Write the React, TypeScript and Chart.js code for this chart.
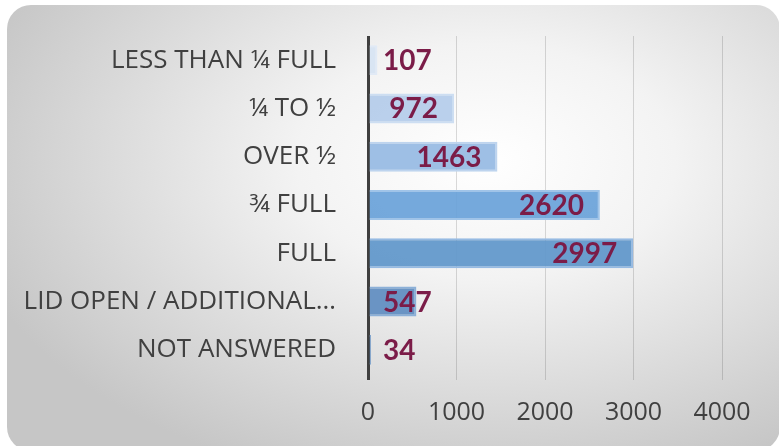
import React, { useEffect, useRef } from "react";
import { Chart, registerables } from "chart.js";

Chart.register(...registerables);

const categories = [
  "LESS THAN ¼ FULL",
  "¼ TO ½",
  "OVER ½",
  "¾ FULL",
  "FULL",
  "LID OPEN / ADDITIONAL…",
  "NOT ANSWERED",
];
const counts = [107, 972, 1463, 2620, 2997, 547, 34];
const xTicks = [0, 1000, 2000, 3000, 4000];

const barColors = [
  "rgba(214,227,243,0.9)",
  "rgba(178,203,234,0.9)",
  "rgba(148,184,226,0.9)",
  "rgba(102,160,216,0.9)",
  "rgba(94,150,202,0.92)",
  "rgba(94,140,192,0.92)",
  "rgba(80,125,180,0.92)",
];
const borderColors = [
  "rgba(225,234,246,1)",
  "rgba(205,222,242,1)",
  "rgba(190,212,238,1)",
  "rgba(160,196,232,1)",
  "rgba(150,186,226,1)",
  "rgba(140,176,216,1)",
  "rgba(130,166,206,1)",
];

const valueLabelPlugin = {
  id: "valueLabels",
  afterDatasetsDraw(chart: any) {
    const ctx = chart.ctx;
    const xScale = chart.scales.x;
    const x0 = xScale.getPixelForValue(0);
    const meta = chart.getDatasetMeta(0);
    ctx.save();
    ctx.font = "bold 28px Lato";
    ctx.fillStyle = "#7b1c48";
    ctx.textAlign = "right";
    ctx.textBaseline = "middle";
    meta.data.forEach((bar: any, i: number) => {
      const text = String(counts[i]);
      const w = ctx.measureText(text).width;
      const right = Math.max(bar.x - 16, x0 + 15 + w);
      ctx.fillText(text, right, bar.y + 1);
    });
    ctx.restore();
  },
};

export default function App() {
  const ref = useRef<HTMLCanvasElement>(null);
  useEffect(() => {
    if (!ref.current) return;
    const chart = new Chart(ref.current, {
      type: "bar",
      data: {
        labels: categories,
        datasets: [
          {
            data: counts,
            backgroundColor: barColors,
            borderColor: borderColors,
            borderWidth: 2,
            borderSkipped: "start",
            barPercentage: 0.62,
            categoryPercentage: 1,
          },
        ],
      },
      options: {
        indexAxis: "y",
        animation: false,
        responsive: false,
        maintainAspectRatio: false,
        layout: { padding: { top: 36, right: 57, bottom: 0, left: 0 } },
        plugins: { legend: { display: false }, tooltip: { enabled: false } },
        scales: {
          x: {
            min: 0,
            max: 4000,
            afterBuildTicks: (s: any) => {
              s.ticks = xTicks.map((v) => ({ value: v }));
            },
            border: { display: false },
            grid: {
              color: (c: any) => (c.tick && c.tick.value === 0 ? "#3f3f3f" : "rgba(0,0,0,0.14)"),
              lineWidth: (c: any) => (c.tick && c.tick.value === 0 ? 3 : 1),
              tickLength: 6,
            },
            ticks: {
              padding: 18,
              color: "#404040",
              font: { family: "Open Sans", size: 25 },
              callback: (v: any) => String(v),
            },
          },
          y: {
            afterFit: (s: any) => {
              s.width = 368;
            },
            border: { display: false },
            grid: {
              display: true,
              drawOnChartArea: false,
              drawTicks: true,
              tickLength: 32,
              color: "rgba(0,0,0,0)",
            },
            ticks: {
              padding: 0,
              color: "#404040",
              font: { family: "Open Sans", size: 26 },
            },
          },
        },
      },
      plugins: [valueLabelPlugin],
    });
    return () => chart.destroy();
  }, []);
  return (
    <div style={{ position: "fixed", left: 0, top: 0, width: 779, height: 446, overflow: "hidden", background: "#ffffff" }}>
      <div
        style={{
          position: "absolute",
          left: 7,
          top: 5,
          width: 773,
          height: 446,
          borderRadius: 24,
          background: "radial-gradient(ellipse 70% 75% at 62% 35%, #ffffff 0%, #f3f3f3 35%, #c6c6c6 100%)",
        }}
      />
      <canvas ref={ref} width={779} height={446} style={{ position: "absolute", left: 0, top: 0, width: 779, height: 446 }} />
    </div>
  );
}
